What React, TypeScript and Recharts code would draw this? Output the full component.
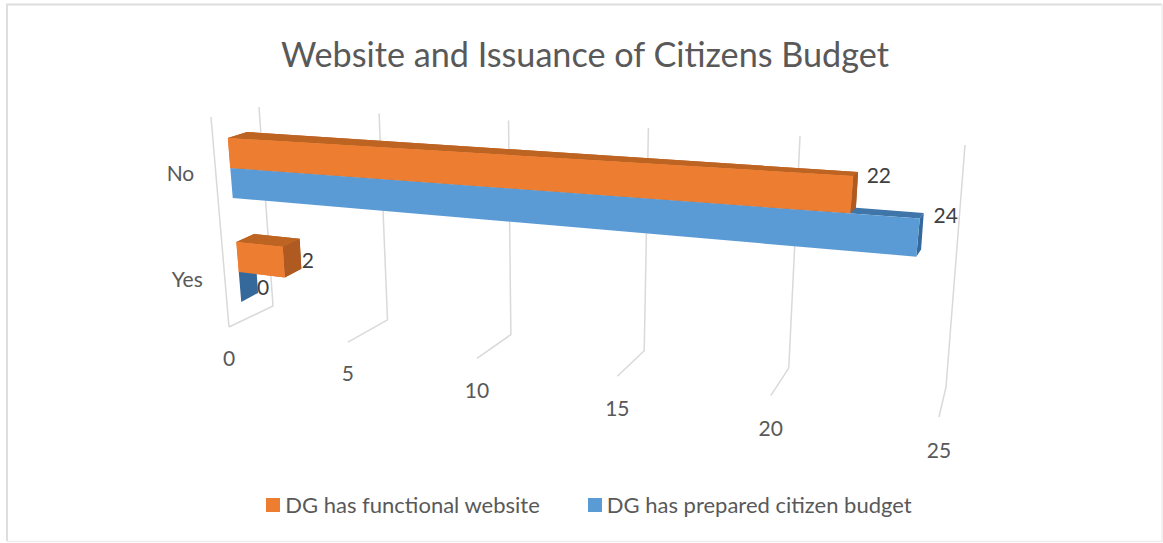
import { BarChart, Bar, XAxis, YAxis, CartesianGrid, Legend } from 'recharts'

const categories = ['No', 'Yes']
const websiteValues = [22, 2]
const budgetValues = [24, 0]
const valueTicks = [0, 5, 10, 15, 20, 25]
const maxValue = 25

const chartTitle = 'Website and Issuance of Citizens Budget'
const websiteName = 'DG has functional website'
const budgetName = 'DG has prepared citizen budget'

const data = categories.map((name, i) => ({
  name,
  website: websiteValues[i],
  budget: budgetValues[i],
}))

const WIDTH = 1163
const HEIGHT = 543
const FONT = 'Lato, Carlito, sans-serif'

// flat plot rectangle that recharts lays out, everything is then projected into the tilted 3d look
const PLOT = { left: 229, top: 116, width: 710, height: 208 }

type Pt = [number, number]

const lerp = (a: Pt, b: Pt, t: number): Pt => [a[0] + (b[0] - a[0]) * t, a[1] + (b[1] - a[1]) * t]

// value axis foreshortening: low values are squeezed, high values stretched
const foreshorten = (u: number, k: number) => (k * u) / (1 - (1 - k) * u)

// quad given as top-left, top-right, bottom-right, bottom-left
function makePlane(tl: Pt, tr: Pt, br: Pt, bl: Pt, k = 0.805) {
  return (u: number, w: number): Pt => lerp(lerp(tl, bl, w), lerp(tr, br, w), foreshorten(u, k))
}

const barFront = makePlane([226, 115.5], [962, 153.4], [936, 421.6], [243, 323.5])
const barBack = makePlane([245.5, 110], [963.8, 151], [943.5, 407], [259.5, 314])
const backWall = makePlane([259, 107], [965, 145], [946, 387], [273, 306], 0.82)
const floorFront = (u: number): Pt => lerp([229, 327], [939, 417], foreshorten(u, 0.805))

const toU = (x: number) => (x - PLOT.left) / PLOT.width
const toW = (y: number) => (y - PLOT.top) / PLOT.height
const pts = (list: Pt[]) => list.map((p) => p.join(',')).join(' ')

function Box({ u, w0, w1, colors }: { u: number; w0: number; w1: number; colors: string[] }) {
  const top = [barBack(0, w0), barBack(u, w0), barFront(u, w0), barFront(0, w0)]
  const cap = [barFront(u, w0), barBack(u, w0), barBack(u, w1), barFront(u, w1)]
  const front = [barFront(0, w0), barFront(u, w0), barFront(u, w1), barFront(0, w1)]
  return (
    <g>
      <polygon points={pts(top)} fill={colors[1]} />
      <polygon points={pts(cap)} fill={colors[2]} />
      <polygon points={pts(front)} fill={colors[0]} />
    </g>
  )
}

const ORANGE = ['#ED7D31', '#BE6423', '#AE5A21']
const BLUE = ['#5B9BD5', '#3F75A8', '#35689B']

function ValueLabel({ u, w0, w1, value }: { u: number; w0: number; w1: number; value: number }) {
  const [x, y] = barBack(u, (w0 + w1) / 2)
  return (
    <text
      x={x + 6 + 18 * u}
      y={y + 8 - 26 * u}
      textAnchor="middle"
      dominantBaseline="central"
      fontFamily={FONT}
      fontSize={21}
      fill="#404040"
    >
      {value}
    </text>
  )
}

function WebsiteBar(props: any) {
  const { x, y, width, height, value } = props
  const u = toU(x + width)
  const w0 = toW(y)
  const w1 = toW(y + height)
  return (
    <g>
      <Box u={u} w0={w0} w1={w1} colors={ORANGE} />
      <ValueLabel u={u} w0={w0} w1={w1} value={value} />
    </g>
  )
}

// the orange bar sits in front of the blue one, so it gets painted again after the blue box
function BudgetBar(props: any) {
  const { x, y, width, height, value, payload } = props
  const u = toU(x + width)
  const w0 = toW(y)
  const w1 = toW(y + height)
  const above = toW(y - height)
  return (
    <g>
      <Box u={u} w0={w0} w1={w1} colors={BLUE} />
      <Box u={payload.website / maxValue} w0={above} w1={w0} colors={ORANGE} />
      <ValueLabel u={u} w0={w0} w1={w1} value={value} />
    </g>
  )
}

function GridLine(props: any) {
  const u = toU(props.x1)
  const line = [backWall(u, 0), backWall(u, 1), floorFront(u)]
  return (
    <g key={props.key ?? u}>
      <polyline points={pts(line)} fill="none" stroke="#D9D9D9" strokeWidth={1.5} />
      {u === 0 && <polyline points={pts([floorFront(0), [211, 117]])} fill="none" stroke="#D9D9D9" strokeWidth={1.5} />}
    </g>
  )
}

function ValueTick({ x, payload }: any) {
  const u = toU(x)
  const [px, py] = floorFront(u)
  return (
    <text x={px} y={py + 30 + 2 * u} textAnchor="middle" dominantBaseline="central" fontFamily={FONT} fontSize={21} fill="#595959">
      {payload.value}
    </text>
  )
}

function CategoryTick({ y, payload }: any) {
  const w = toW(y)
  const [px, py] = barFront(0, w)
  return (
    <text x={px - 36} y={py + 4 + 4 * w} textAnchor="end" dominantBaseline="central" fontFamily={FONT} fontSize={21} fill="#595959">
      {payload.value}
    </text>
  )
}

function LegendContent({ payload }: any) {
  return (
    <div style={{ display: 'flex', justifyContent: 'center', gap: 48, fontFamily: FONT, fontSize: 22, color: '#595959', lineHeight: '26px' }}>
      {(payload ?? []).map((item: any) => (
        <div key={item.value} style={{ display: 'flex', alignItems: 'center', gap: 5 }}>
          <span style={{ width: 14, height: 14, background: item.color, display: 'inline-block' }} />
          <span>{item.value}</span>
        </div>
      ))}
    </div>
  )
}

export default function App() {
  return (
    <div style={{ position: 'absolute', left: 0, top: 0, width: WIDTH, height: HEIGHT, background: '#fff' }}>
      <BarChart
        width={WIDTH}
        height={HEIGHT}
        data={data}
        layout="vertical"
        barCategoryGap="21.6%"
        barGap={0}
        margin={{
          top: PLOT.top,
          left: 0,
          right: WIDTH - PLOT.left - PLOT.width,
          bottom: 0,
        }}
      >
        <path d="M7 541V4.5H1162" fill="none" stroke="#DEDEDE" strokeWidth={2} />
        <path d="M7 541.5H1162V4.5" fill="none" stroke="#EEEEEE" strokeWidth={1.5} />
        <text x={585} y={53} textAnchor="middle" dominantBaseline="central" fontFamily={FONT} fontSize={34.2} fill="#595959">
          {chartTitle}
        </text>
        <CartesianGrid horizontal={false} vertical={GridLine} />
        <XAxis
          type="number"
          domain={[0, maxValue]}
          ticks={valueTicks}
          interval={0}
          height={HEIGHT - PLOT.top - PLOT.height}
          axisLine={false}
          tickLine={false}
          tick={ValueTick}
        />
        <YAxis type="category" dataKey="name" width={PLOT.left} axisLine={false} tickLine={false} tick={CategoryTick} />
        <Legend
          layout="horizontal"
          verticalAlign="middle"
          align="center"
          wrapperStyle={{ left: 7.5, top: 492, width: WIDTH }}
          content={LegendContent}
        />
        <Bar dataKey="website" name={websiteName} fill={ORANGE[0]} shape={WebsiteBar} isAnimationActive={false} />
        <Bar dataKey="budget" name={budgetName} fill={BLUE[0]} shape={BudgetBar} isAnimationActive={false} />
      </BarChart>
    </div>
  )
}
